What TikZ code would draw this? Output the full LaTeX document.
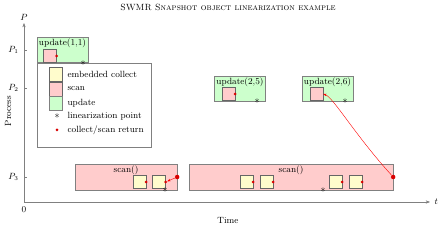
\documentclass[tikz,border=0pt]{standalone}
\usepackage{amsmath,amssymb}
\usepackage{xcolor}
\usepackage{tikz}
\usetikzlibrary{arrows.meta, positioning, calc}

\begin{document}
\begin{tikzpicture}[x=1pt, y=1pt, font=\small,
    axis/.style={-{Stealth[length=1.5mm]}, gray},
    updbox/.style={draw=gray, fill=green!20, minimum width=51pt,
                   minimum height=25pt, inner sep=0pt},
    scanbox/.style={draw=gray, fill=red!20, minimum height=26pt, inner sep=0pt},
    scansq/.style={draw=black!60, fill=red!20, minimum size=13pt, inner sep=0pt},
    collsq/.style={draw=black!60, fill=yellow!20, minimum size=13pt, inner sep=0pt},
    ret/.style={circle, fill=red!85!black, inner sep=0pt, minimum size=3pt},
    bigret/.style={circle, fill=red!85!black, inner sep=0pt, minimum size=4.5pt},
    lin/.style={inner sep=0pt, font=\normalsize},
    boxlabel/.style={anchor=north, inner sep=1.5pt, font=\small},
    legtext/.style={anchor=west, font=\small},
    retline/.style={red, -{Stealth[length=1.2mm]}}]

    \useasboundingbox (0,0) rectangle (440,228);

    % title
    \node (title) at (228,221) {\scshape SWMR Snapshot object linearization example};

    % axes
    \coordinate (o) at (24,26);
    \coordinate (tend) at (430,26);
    \coordinate (ptop) at (24,205);
    \draw[axis] (o) -- (tend);
    \draw[axis] (o) -- (ptop);
    \node (tlab) [right=1pt of tend] {$t$};
    \node (plab) [above=-1pt of ptop] {$P$};
    \node (zero) [below=1pt of o] {$0$};
    \node (timelab) at (228,7) {Time};
    \node (proclab) [rotate=90] at (8,117) {Process};

    \foreach \y/\n in {178/1, 140/2, 51/3} {
      \draw[gray] (24,\y) -- (27,\y);
      \node (p\n) [anchor=east] at (22,\y) {$P_{\n}$};
    }

    % P1 : update(1,1)
    \node[updbox] (u11) at (62.5,178) {};
    \node[boxlabel] (u11lab) at (u11.north) {update(1,1)};
    \node[scansq] (s11) at (50,172) {};
    \node[ret] (r11) at (s11.east) {};

    % legend
    \node[draw=gray, fill=white, minimum width=114pt, minimum height=84pt] (legend) at (94,123) {};
    \node[collsq, minimum height=14pt] (lcoll) at (55.5,153.5) {};
    \node[scansq, minimum height=14pt] (lscan) at (55.5,139) {};
    \node[updbox, minimum width=13pt, minimum height=14pt] (lupd) at (55.5,124.5) {};
    \node[lin] (llin) at (57,112) {$\ast$};
    \node[ret] (lret) at (57,98) {};
    \node[legtext] (tcoll) at (64,153.5) {embedded collect};
    \node[legtext] (tscan) at (64,139) {scan};
    \node[legtext] (tupd) at (64,124.5) {update};
    \node[legtext] (tlin) at (64,112) {linearization point};
    \node[legtext] (tret) at (64,98) {collect/scan return};

    \node[lin] (l11) at (83,165) {$\ast$};

    % P2 : update(2,5), update(2,6)
    \node[updbox] (u25) at (240,139.5) {};
    \node[boxlabel] (u25lab) at (u25.north) {update(2,5)};
    \node[scansq] (s25) at (228.5,134) {};
    \node[ret] (r25) at (s25.east) {};
    \node[lin] (l25) at (257,127) {$\ast$};

    \node[updbox] (u26) at (327.5,139.5) {};
    \node[boxlabel] (u26lab) at (u26.north) {update(2,6)};
    \node[scansq] (s26) at (316.5,134) {};
    \node[lin] (l26) at (345,127) {$\ast$};

    % P3 : two scans
    \node[scanbox, minimum width=102pt] (sc1) at (126,51) {};
    \node[boxlabel] (sc1lab) at (sc1.north) {scan()};
    \node[collsq] (c11) at (139.5,46) {};
    \node[collsq] (c12) at (159,46) {};
    \node[ret] (rc11) at (c11.east) {};
    \node[ret] (rc12) at (c12.east) {};
    \node[bigret] (end1) at (sc1.east) {};
    \draw[retline] (end1) -- (rc12);
    \node[lin] (lsc1) at (165,38) {$\ast$};

    \node[scanbox, minimum width=204pt] (sc2) at (291,51) {};
    \node[boxlabel] (sc2lab) at (sc2.north) {scan()};
    \foreach \x [count=\i] in {246.5, 266.5, 335.5, 355.5} {
      \node[collsq] (c2\i) at (\x,46) {};
      \node[ret] (rc2\i) at (c2\i.east) {};
    }
    \node[bigret] (end2) at (sc2.east) {};
    \node[lin] (lsc2) at (323,38) {$\ast$};

    \draw[retline] (end2) .. controls (355,93) and (333,131) .. (s26.east);
\end{tikzpicture}
\end{document}
